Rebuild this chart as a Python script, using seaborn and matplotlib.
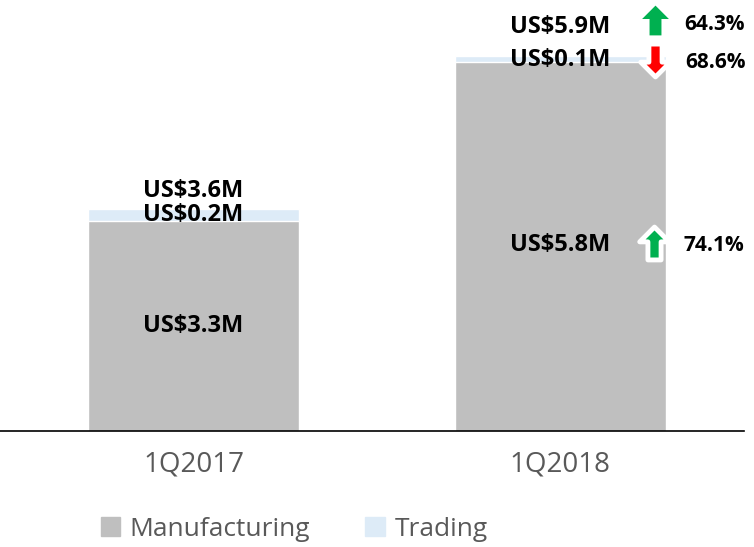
import pandas as pd
import matplotlib.pyplot as plt
import seaborn as sns
from matplotlib.path import Path
from matplotlib.patches import Patch

# Data
quarters = ["1Q2017", "1Q2018"]
manufacturing = [3.3, 5.8]
trading = [0.2, 0.1]
total_labels = ["US$3.6M", "US$5.9M"]
manu_labels = ["US$3.3M", "US$5.8M"]
trade_labels = ["US$0.2M", "US$0.1M"]
growth_total = "64.3%"
growth_trade = "68.6%"
growth_manu = "74.1%"

GREY = "#BFBFBF"
BLUE = "#DDEBF7"
TXT = "#595959"

sns.set_style("white")
plt.rcParams['font.family'] = ['Open Sans', 'DejaVu Sans']

df = pd.DataFrame({"quarter": quarters, "manufacturing": manufacturing, "trading": trading})
df["total"] = df["manufacturing"] + df["trading"]

fig = plt.figure(figsize=(7.54, 5.47), dpi=100)
ax = fig.add_axes([0, 0.212, 0.987, 0.788])

sns.barplot(data=df, x="quarter", y="total", color=BLUE, saturation=1, width=0.576, ax=ax)
sns.barplot(data=df, x="quarter", y="manufacturing", color=GREY, saturation=1, width=0.576, ax=ax)

ax.set_xlim(-0.528, 1.502)
ax.set_ylim(0, 6.78)
ax.set_xlabel("")
ax.set_ylabel("")
ax.set_yticks([])
for s in ["top", "left", "right"]:
    ax.spines[s].set_visible(False)
ax.spines["bottom"].set_color("black")
ax.spines["bottom"].set_linewidth(1.2)
ax.tick_params(axis="x", length=0, pad=14, labelsize=20, labelcolor=TXT)

lab = dict(ha="center", va="center", fontsize=17, fontweight="bold", color="black")
for i in range(len(quarters)):
    m = manufacturing[i]
    t = m + trading[i]
    ax.text(i, m / 2 if i == 0 else 2.93, manu_labels[i], **lab)
    ax.text(i, t - 0.1 if i == 0 else t - 0.07, trade_labels[i], **lab)
    ax.text(i, t + 0.27 if i == 0 else 6.35, total_labels[i], **lab)

# arrow markers
up = Path([(-0.2, -0.5), (0.2, -0.5), (0.2, 0.05), (0.45, 0.05), (0, 0.5),
           (-0.45, 0.05), (-0.2, 0.05), (-0.2, -0.5)], closed=True)
down = Path([(x, -y) for x, y in up.vertices], closed=True)

ax.scatter([1.259], [6.46], marker=up, s=460, color="#00B050", edgecolors="white", linewidths=0, zorder=5)
ax.scatter([1.259], [5.84], marker=down, s=560, color="#FF0000", edgecolors="white", linewidths=3.5, zorder=5)
ax.scatter([1.256], [2.96], marker=up, s=560, color="#00B050", edgecolors="white", linewidths=3.5, zorder=5)

pct = dict(ha="center", va="center", fontsize=15, fontweight="bold", color="black")
ax.text(1.42, 6.40, growth_total, **pct)
ax.text(1.425, 5.79, growth_trade, **pct)
ax.text(1.42, 2.92, growth_manu, **pct)

handles = [Patch(color=GREY, label="Manufacturing"), Patch(color=BLUE, label="Trading")]
fig.legend(handles=handles, loc="center", bbox_to_anchor=(0.39, 0.032), ncol=2, frameon=False,
           fontsize=19, labelcolor=TXT, handlelength=0.75, handleheight=0.75, handletextpad=0.35,
           columnspacing=2.1)

fig.savefig("out.png", dpi=100)
